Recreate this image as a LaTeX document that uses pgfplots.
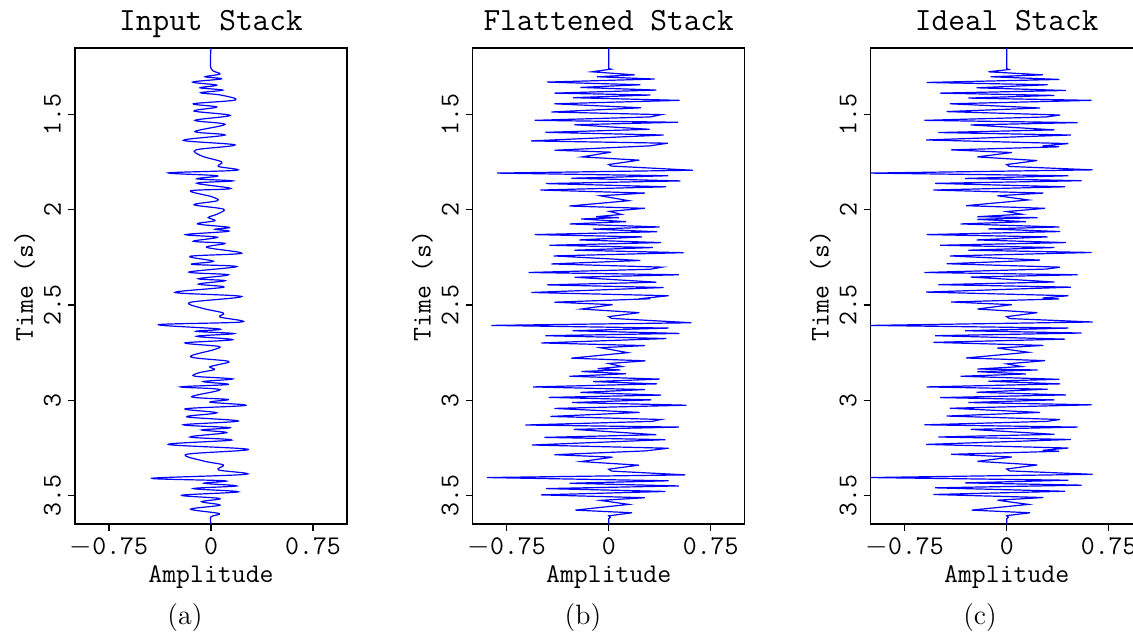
\documentclass[border=0pt]{standalone}
\usepackage{fontspec}
\usepackage{pgfplots}
\pgfplotsset{compat=1.18}
\pgfplotstableread{
A t
0 1.15
0 1.258
0.017 1.263
-0.135 1.275
0.265 1.291
-0.118 1.301
0.387 1.315
-0.588 1.331
0.301 1.343
-0.221 1.359
0.434 1.373
-0.490 1.387
0.350 1.399
-0.282 1.413
0.625 1.425
-0.417 1.443
0.245 1.465
-0.441 1.484
0.392 1.502
0.294 1.512
-0.605 1.530
0.522 1.542
-0.265 1.554
0.350 1.580
-0.502 1.594
0.471 1.607
-0.593 1.633
0.453 1.652
0.265 1.664
0.385 1.669
-0.409 1.685
0.037 1.699
-0.216 1.722
0.225 1.741
0.0 1.762
0.02 1.772
0.632 1.790
-1.0 1.807
0.453 1.821
-0.306 1.835
0.551 1.847
-0.527 1.861
0.429 1.879
-0.539 1.896
0.270 1.912
-0.069 1.926
0.159 1.948
-0.299 1.978
0.282 1.992
0.0 2.009
0.110 2.023
-0.216 2.036
0.228 2.041
-0.216 2.050
0.140 2.062
-0.338 2.074
0.387 2.090
-0.135 2.100
0.392 2.114
-0.588 2.130
0.301 2.142
-0.221 2.158
0.434 2.172
-0.490 2.186
0.350 2.198
-0.282 2.212
0.625 2.224
-0.417 2.242
0.245 2.264
-0.441 2.283
0.392 2.301
0.294 2.311
-0.605 2.329
0.522 2.341
-0.265 2.353
0.350 2.379
-0.502 2.393
0.471 2.406
-0.593 2.432
0.453 2.451
0.265 2.463
0.385 2.468
-0.409 2.484
0.037 2.498
-0.216 2.521
0.225 2.540
0.0 2.561
0.02 2.571
0.632 2.589
-1.0 2.607
0.453 2.621
-0.306 2.635
0.551 2.647
-0.527 2.661
0.429 2.679
-0.539 2.696
0.270 2.712
-0.069 2.726
0.159 2.748
-0.299 2.778
0.282 2.792
0.0 2.809
0.110 2.823
-0.216 2.836
0.228 2.841
-0.216 2.850
0.140 2.862
-0.338 2.874
0.387 2.890
-0.135 2.900
0.392 2.914
-0.588 2.930
0.301 2.942
-0.221 2.958
0.434 2.972
-0.490 2.986
0.350 2.998
-0.282 3.012
0.625 3.024
-0.417 3.042
0.245 3.064
-0.441 3.083
0.392 3.101
0.294 3.111
-0.605 3.129
0.522 3.141
-0.265 3.153
0.350 3.179
-0.502 3.193
0.471 3.206
-0.593 3.232
0.453 3.251
0.265 3.263
0.385 3.268
-0.409 3.284
0.037 3.298
-0.216 3.321
0.225 3.340
0.0 3.361
0.02 3.371
0.632 3.389
-1.0 3.406
0.453 3.420
-0.306 3.434
0.551 3.446
-0.527 3.460
0.429 3.478
-0.539 3.495
0.270 3.511
-0.069 3.525
0.159 3.547
-0.257 3.577
0.172 3.591
0.0 3.606
0.012 3.615
0.0 3.622
0 3.65
}\ideal
\pgfplotstableread{
A t
0 1.15
0 1.258
0.017 1.261
-0.123 1.275
0.191 1.291
-0.086 1.301
0.338 1.313
-0.453 1.329
0.233 1.343
-0.208 1.357
0.350 1.371
-0.400 1.387
0.306 1.397
-0.262 1.411
0.522 1.425
-0.400 1.443
0.238 1.464
-0.422 1.486
0.387 1.500
0.306 1.512
-0.544 1.530
0.510 1.540
-0.252 1.553
0.301 1.577
-0.466 1.593
0.404 1.607
-0.571 1.638
0.434 1.650
0.301 1.664
-0.397 1.687
0.017 1.697
-0.196 1.722
0.225 1.739
0.0 1.762
0.02 1.770
0.618 1.792
-0.821 1.807
0.436 1.821
-0.275 1.834
0.527 1.848
-0.461 1.862
0.422 1.879
-0.502 1.896
0.265 1.912
-0.061 1.926
0.147 1.952
-0.289 1.980
0.265 1.992
0.005 2.008
0.093 2.024
-0.093 2.036
0.074 2.041
-0.203 2.048
0.127 2.062
-0.287 2.074
0.375 2.090
-0.115 2.101
0.355 2.115
-0.544 2.130
0.245 2.142
-0.216 2.158
0.385 2.172
-0.436 2.186
0.324 2.198
-0.252 2.212
0.551 2.225
-0.404 2.242
0.233 2.266
-0.422 2.284
0.392 2.301
0.306 2.312
-0.588 2.329
0.515 2.341
-0.250 2.354
0.350 2.380
-0.453 2.394
0.404 2.408
-0.569 2.434
0.441 2.451
0.265 2.464
0.306 2.467
-0.400 2.485
0.029 2.498
-0.201 2.521
0.225 2.540
0.0 2.561
0.02 2.570
0.608 2.593
-0.863 2.607
0.441 2.621
-0.265 2.635
0.520 2.649
-0.466 2.661
0.424 2.676
-0.495 2.699
0.265 2.713
-0.061 2.724
0.140 2.750
-0.275 2.779
0.270 2.793
0.0 2.807
0.098 2.823
-0.081 2.834
0.086 2.841
-0.201 2.849
0.127 2.861
-0.289 2.874
0.375 2.889
-0.115 2.902
0.355 2.914
-0.556 2.930
0.265 2.944
-0.208 2.959
0.385 2.973
-0.441 2.985
0.314 2.998
-0.270 3.012
0.571 3.026
-0.400 3.043
0.228 3.064
-0.429 3.085
0.385 3.101
0.319 3.111
-0.613 3.130
0.515 3.141
-0.257 3.153
0.350 3.181
-0.473 3.195
0.417 3.207
-0.564 3.235
0.441 3.252
0.270 3.266
-0.400 3.286
0.029 3.299
-0.203 3.322
0.221 3.341
0.0 3.362
0.02 3.372
0.564 3.392
-0.895 3.406
0.441 3.423
-0.287 3.436
0.515 3.450
-0.461 3.464
0.417 3.479
-0.498 3.497
0.265 3.512
-0.061 3.526
0.147 3.547
-0.245 3.577
0.172 3.591
0.0 3.607
0.012 3.615
0.0 3.622
0 3.65
}\flat
\pgfplotstableread{
A t
0 1.15
0 1.258
0.066 1.286
-0.044 1.301
0.078 1.312
-0.135 1.329
0.042 1.345
-0.081 1.359
0.086 1.371
-0.076 1.385
0.071 1.397
0.181 1.423
-0.130 1.443
0.042 1.460
-0.125 1.481
0.140 1.504
-0.118 1.530
0.103 1.551
-0.118 1.589
0.103 1.607
-0.203 1.635
0.176 1.659
-0.110 1.685
-0.069 1.717
0.078 1.748
0.054 1.772
0.189 1.792
-0.314 1.806
0.047 1.821
-0.105 1.837
0.159 1.848
-0.105 1.860
0.145 1.888
-0.150 1.900
0.005 1.931
0.047 1.952
-0.125 1.973
0.091 1.996
0.047 2.022
-0.020 2.040
0.029 2.057
-0.100 2.074
0.135 2.092
0.029 2.102
0.127 2.113
-0.186 2.130
0.047 2.144
-0.130 2.165
0.103 2.176
-0.032 2.197
0.225 2.228
-0.154 2.244
0.017 2.270
-0.142 2.286
0.189 2.298
-0.162 2.327
0.127 2.341
-0.093 2.362
0.103 2.372
-0.093 2.390
0.095 2.406
-0.265 2.434
0.225 2.455
-0.154 2.486
-0.069 2.516
0.091 2.542
0.066 2.563
0.225 2.589
-0.387 2.603
0.066 2.626
-0.110 2.638
0.169 2.650
-0.105 2.664
0.159 2.682
-0.191 2.699
0.054 2.717
0.022 2.734
-0.150 2.772
0.127 2.795
0.054 2.813
-0.010 2.825
0.025 2.839
-0.090 2.856
-0.118 2.874
0.159 2.888
-0.056 2.902
0.127 2.917
-0.223 2.930
0.066 2.944
-0.142 2.982
0.127 2.996
-0.007 3.010
0.257 3.027
-0.191 3.045
0.042 3.066
-0.179 3.087
0.201 3.109
-0.203 3.129
0.140 3.144
-0.069 3.156
0.115 3.170
-0.154 3.193
0.152 3.209
-0.314 3.232
0.275 3.258
-0.179 3.284
-0.056 3.319
0.091 3.340
0.054 3.366
0.257 3.389
-0.436 3.410
0.103 3.423
-0.051 3.436
0.189 3.450
-0.130 3.464
0.201 3.481
-0.216 3.499
0.066 3.516
-0.069 3.533
0.066 3.551
-0.150 3.572
0.061 3.595
0.0 3.612
0 3.65
}\inputstack
\pgfplotsset{
  trace/.style={
    scale only axis, width=136pt, height=238pt, anchor=south west,
    xmin=-1, xmax=1, ymin=1.15, ymax=3.65, y dir=reverse,
    xtick={-0.75,0,0.75}, xticklabels={$-$0.75,0,0.75},
    ytick={1.5,2,2.5,3,3.5}, yticklabels={1.5,2,2.5,3,3.5},
    tick align=outside, tick pos=left, major tick length=3.5pt,
    ticklabel style={font=\fontsize{13.5}{16}\selectfont\ttfamily},
    yticklabel style={rotate=90, anchor=south},
    axis line style={line width=0.6pt},
    every tick/.style={black, line width=0.6pt},
  },
  wig/.style={blue, line width=0.6pt, no marks},
}
\tikzset{
  ttl/.style={font=\fontsize{16.2}{19}\selectfont\ttfamily, anchor=base, inner sep=0pt},
  lab/.style={font=\fontsize{13.5}{16}\selectfont\ttfamily, anchor=base, inner sep=0pt},
  subcap/.style={font=\fontsize{14}{17}\selectfont, inner sep=0pt},
}
\begin{document}
\begin{tikzpicture}
\begin{axis}[trace, at={(37.5pt,54pt)}]
\addplot[wig, smooth, tension=0.55] table[x=A, y=t] {\inputstack};
\end{axis}
\begin{axis}[trace, at={(236.35pt,54pt)}]
\addplot[wig] table[x=A, y=t] {\flat};
\end{axis}
\begin{axis}[trace, at={(435.35pt,54pt)}]
\addplot[wig] table[x=A, y=t] {\ideal};
\end{axis}
\node[ttl] at (105.5pt,300.5pt) {Input Stack};
\node[ttl] at (304.35pt,300.5pt) {Flattened Stack};
\node[ttl] at (503.35pt,300.5pt) {Ideal Stack};
\foreach \x in {105.5,304.35,503.35} {\node[lab] at (\x pt,25pt) {Amplitude};}
\foreach \x in {16.5,215.35,414.35} {\node[lab, rotate=90] at (\x pt,173pt) {Time (s)};}
\node[subcap] at (92.5pt,7pt) {(a)};
\node[subcap] at (291.5pt,7pt) {(b)};
\node[subcap] at (490pt,7pt) {(c)};
\pgfresetboundingbox
\useasboundingbox (0,0) rectangle (566.5pt,316pt);
\end{tikzpicture}
\end{document}
